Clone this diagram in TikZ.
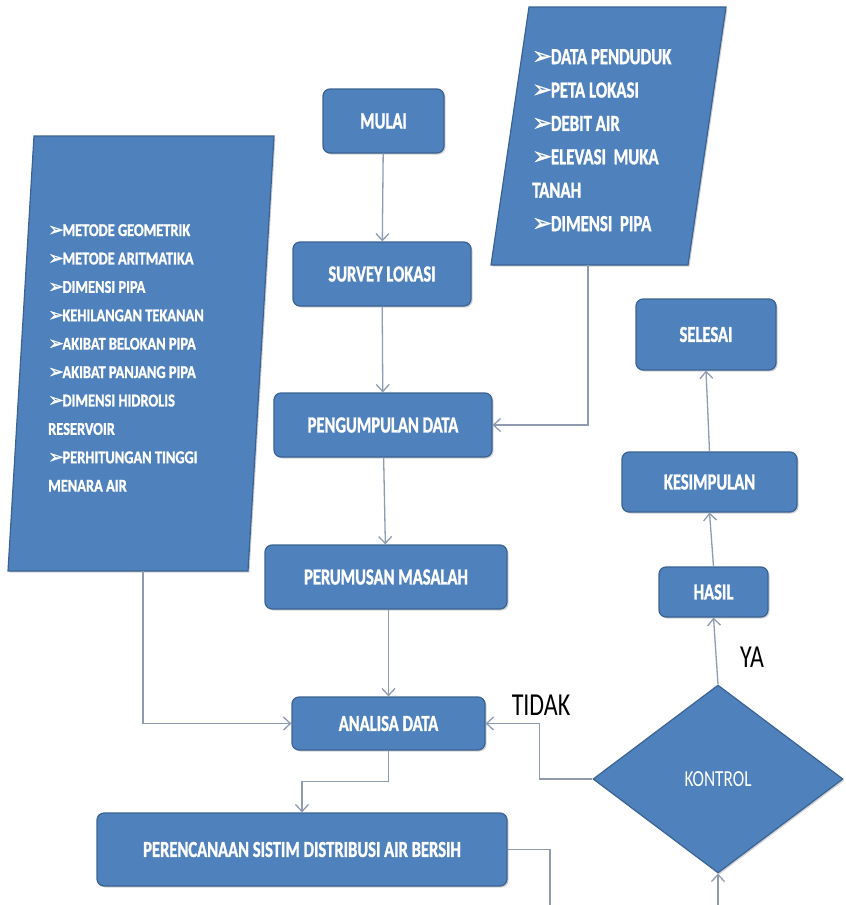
\documentclass[tikz,border=0pt]{standalone}
\usepackage{fontspec}
\usetikzlibrary{shapes.geometric,arrows.meta,calc,shadows}
\newfontfamily\cf[FakeStretch=0.75]{Carlito}
\newfontfamily\cfb[FakeStretch=0.72,BoldFeatures={FakeBold=1.2}]{Carlito}
\newfontfamily\cfl[FakeStretch=0.8,BoldFeatures={FakeBold=1.2}]{Carlito}
\newfontfamily\cfr[FakeStretch=0.73,BoldFeatures={FakeBold=1.2}]{Carlito}
\newfontfamily\dv[FakeBold=1]{DejaVu Sans}
\definecolor{boxblue}{HTML}{4F81BD}
\definecolor{boxline}{HTML}{3A6393}
\definecolor{conn}{HTML}{8E9BB0}
\newcommand\bul{\scalebox{1.05}{\dv\char"27A2}\kern-1.5pt}
\begin{document}
\begin{tikzpicture}[x=1pt,y=-1pt,
  shp/.style={draw=boxline, line width=1.2pt, fill=boxblue,
    drop shadow={opacity=0.35, shadow xshift=1.5pt, shadow yshift=-1.5pt}},
  blk/.style={shp, rounded corners=7pt, text=white,
    font=\cfb\bfseries\fontsize{23}{26}\selectfont, inner sep=0pt},
  ptxt/.style={anchor=north west, align=left, text=white, inner sep=0pt},
  lbl/.style={text=black, font=\cf\fontsize{32}{36}\selectfont, inner sep=0pt},
  ln/.style={draw=conn, line width=1.3pt},
  arr/.style={ln, -{Straight Barb[length=7pt,width=13pt]}}]
\useasboundingbox (0,0) rectangle (846,905);

% parallelograms
\path[shp] (34,136) -- (274,136) -- (248,571) -- (8,571) -- cycle;
\coordinate (lpb) at (143,571);
\node[ptxt, font=\cfl\bfseries\fontsize{18}{28.4}\selectfont] (ltxt) at (48,224)
  {\bul METODE GEOMETRIK\\ \bul METODE ARITMATIKA\\ \bul DIMENSI PIPA\\
   \bul KEHILANGAN TEKANAN\\ \bul AKIBAT BELOKAN PIPA\\ \bul AKIBAT PANJANG PIPA\\
   \bul DIMENSI HIDROLIS\\ RESERVOIR\\ \bul PERHITUNGAN TINGGI\\ MENARA AIR};

\path[shp] (529,7) -- (726,7) -- (688,265) -- (491,265) -- cycle;
\coordinate (rpb) at (588,265);
\node[ptxt, font=\cfr\bfseries\fontsize{23}{33.4}\selectfont] (rtxt) at (532,49)
  {\bul DATA PENDUDUK\\ \bul PETA LOKASI\\ \bul DEBIT AIR\\
   \bul ELEVASI\ \ MUKA\\ TANAH\\ \bul DIMENSI\ \ PIPA};

% process boxes
\node[blk, minimum width=121pt, minimum height=64pt] (mul) at (383.5,121) {MULAI};
\node[blk, minimum width=178pt, minimum height=64pt] (sur) at (382,274) {SURVEY LOKASI};
\node[blk, minimum width=218pt, minimum height=64pt] (pen) at (383,425) {PENGUMPULAN DATA};
\node[blk, minimum width=242pt, minimum height=64pt] (prm) at (386,577) {PERUMUSAN MASALAH};
\node[blk, minimum width=193pt, minimum height=53pt] (ana) at (388.5,723.5) {ANALISA DATA};
\node[blk, minimum width=410pt, minimum height=73pt] (prc) at (302,849.5) {PERENCANAAN SISTIM DISTRIBUSI AIR BERSIH};
\node[blk, minimum width=140pt, minimum height=71pt] (sel) at (706,334.5) {SELESAI};
\node[blk, minimum width=175pt, minimum height=60pt] (kes) at (709.5,482) {KESIMPULAN};
\node[blk, minimum width=109pt, minimum height=50pt] (has) at (713.5,592) {HASIL};
\node[shp, diamond, aspect=1.33, minimum width=250pt, minimum height=188pt, inner sep=0pt,
  text=white, font=\cf\fontsize{23}{26}\selectfont] (kon) at (718,779) {KONTROL};

% labels
\node[lbl] (tidak) at (541,705) {TIDAK};
\node[lbl] (ya) at (752,657) {YA};

% connectors
\draw[arr] (mul) -- (sur);
\draw[arr] (sur) -- (pen);
\draw[arr] (pen) -- (prm);
\draw[arr] (ana.north |- prm.south) -- (ana.north);
\draw[arr] (rpb) |- (pen.east);
\draw[arr] (lpb) |- (ana.west);
\draw[arr] (kon.west) -- ++(-53,0) |- (ana.east);
\draw[arr] (ana.south) |- ($(ana.south)!0.5!(prc.north)$) -| (prc.north);
\coordinate (cb1) at (550,905);
\draw[ln] (prc.east) -| (cb1);
\coordinate (cb2) at (718,905);
\draw[arr] (cb2) -- (kon.south);
\draw[arr] (kon.north) -- (has.south);
\draw[arr] (has.north) -- (kes.south);
\draw[arr] (kes.north) -- (sel.south);
\end{tikzpicture}
\end{document}
